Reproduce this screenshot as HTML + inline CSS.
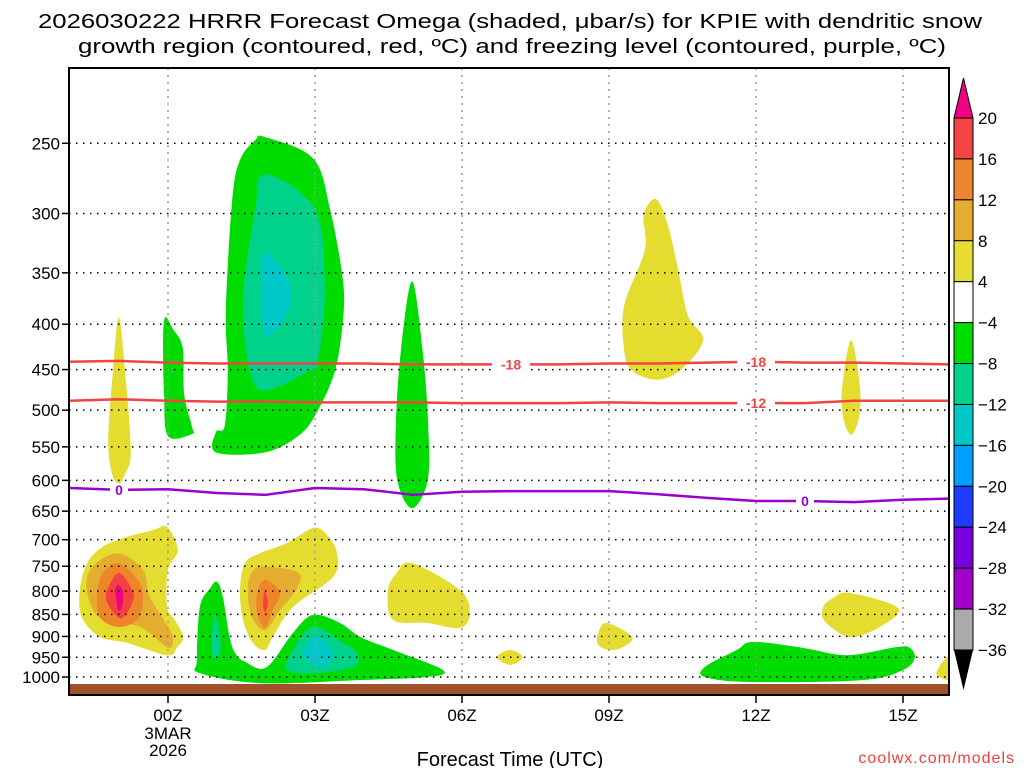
<!DOCTYPE html>
<html><head><meta charset="utf-8"><style>body{margin:0;background:#fff}svg{display:block}</style></head>
<body>
<svg id="chart" width="1024" height="768" viewBox="0 0 1024 768" xmlns="http://www.w3.org/2000/svg" font-family="'Liberation Sans', sans-serif">
<text x="510" y="28" font-size="20" text-anchor="middle" textLength="944" lengthAdjust="spacingAndGlyphs">2026030222 HRRR Forecast Omega (shaded, μbar/s) for KPIE with dendritic snow</text>
<text x="512" y="53" font-size="20" text-anchor="middle" textLength="868" lengthAdjust="spacingAndGlyphs">growth region (contoured, red, ºC) and freezing level (contoured, purple, ºC)</text>
<defs><clipPath id="plotclip"><rect x="69" y="68" width="880" height="627"/></clipPath></defs>
<g id="shades" clip-path="url(#plotclip)"></g>
<g id="grid"></g>
<rect x="69" y="684" width="880" height="11" fill="#a0522d"/>
<g id="lines" clip-path="url(#plotclip)"></g>
<rect x="69" y="68" width="880" height="627" fill="none" stroke="#000" stroke-width="2"/>
<g id="axes"></g>
<g id="cbar"></g>
<text x="510" y="766" font-size="20" text-anchor="middle">Forecast Time (UTC)</text>
<text x="1015" y="763" font-size="16" text-anchor="end" fill="#f04040" letter-spacing="1">coolwx.com/models</text>
</svg>
<script>
const pressureTicks=[250,300,350,400,450,500,550,600,650,700,750,800,850,900,950,1000];
const hourTicks=[0,3,6,9,12,15];
const hourLabels=['00Z','03Z','06Z','09Z','12Z','15Z'];
const cbarLabels=['20','16','12','8','4','-4','-8','-12','-16','-20','-24','-28','-32','-36'];
const cbarColors=['#f44343','#f08530','#e6ac30','#e6dc32','#ffffff','#00dc00','#00d28c','#00c8c8','#00a0ff','#1e3cff','#7800dc','#a000c8','#aaaaaa'];
const lineHours=[-2,-1,0,1,2,3,4,5,6,7,8,9,10,11,12,13,14,15,16];
const iso18=[441,440,442,443,443,443,443,444,444,444,444,443,443,442,441,442,442,443,444];
const iso12=[488,486,488,489,489,490,490,490,491,491,491,490,491,491,491,491,488,488,488];
const iso0=[612,615,614,620,623,612,614,623,618,617,617,617,622,628,633,633,635,631,629];
const C={y:'#e5dc30',g:'#e5ad30',o:'#ef8529',r:'#f34040',m:'#ee0080',G:'#00dc00',T:'#00d28c',c:'#00c8c8'};
const blobGreenBig=[[1.98,246],[2.96,260],[3.31,297],[3.57,357],[3.57,396],[3.41,451],[3.06,500],[2.69,533],[1.98,558],[0.98,558],[0.98,529],[1.16,520],[1.22,451],[1.18,386],[1.31,290],[1.47,261],[1.78,248]];
const blobTealBig=[[1.98,271],[3.0,297],[3.2,366],[3.06,439],[2.9,451],[1.98,475],[1.67,451],[1.53,376],[1.78,297]];
const blobCyanBig=[[1.98,332],[2.45,357],[2.45,386],[2.04,413],[1.92,386],[1.92,357]];
const blobYellowSpike=[[-1.0,393],[-0.85,470],[-0.76,560],[-0.88,590],[-1.0,605],[-1.14,590],[-1.22,540],[-1.12,450]];
const blobGreenSpike=[[-0.06,393],[0.1,405],[0.3,425],[0.33,480],[0.49,522],[0.49,532],[0.0,535],[-0.08,480],[-0.1,420]];
const blobGreen5=[[4.98,358],[5.2,430],[5.31,520],[5.3,600],[4.98,645],[4.68,600],[4.65,520],[4.75,430]];
const blobYellow10=[[9.96,289],[10.2,309],[10.41,347],[10.61,391],[10.92,417],[10.45,451],[9.96,462],[9.47,451],[9.31,428],[9.31,381],[9.73,330],[9.71,301]];
const blobYellow14=[[13.94,417],[14.12,470],[14.1,510],[13.94,533],[13.78,510],[13.76,470]];
const blobYellowL=[[-0.02,677],[0.2,719],[0,757],[-0.02,834],[0.14,862],[0.31,901],[0.18,927],[-0.02,945],[-0.84,915],[-1.39,901],[-1.76,856],[-1.8,798],[-1.65,744],[-1.33,713],[-0.84,695],[-0.31,683]];
const blobGoldL=[[-1.04,725],[-0.51,757],[-0.37,812],[0.04,885],[0.1,915],[-0.02,925],[-0.57,878],[-1.33,862],[-1.63,812],[-1.59,757]];
const blobOrangeL=[[-1.02,744],[-0.61,777],[-0.51,819],[-0.63,862],[-1.02,878],[-1.39,856],[-1.45,804],[-1.33,763]];
const blobRedL=[[-1.0,763],[-0.73,798],[-0.71,819],[-0.84,847],[-1.0,858],[-1.24,825],[-1.24,798]];
const blobMagL=[[-1.02,787],[-0.92,802],[-0.94,834],[-1.02,840],[-1.06,812],[-1.08,798]];
const blobYellowM=[[2.96,679],[3.24,691],[3.45,725],[3.37,771],[2.55,834],[2.14,901],[1.98,932],[1.73,915],[1.53,862],[1.47,798],[1.57,744],[1.88,725],[2.43,706]];
const blobGoldM=[[1.88,751],[2.63,761],[2.65,791],[2.29,840],[1.98,885],[1.71,856],[1.63,804],[1.67,771]];
const blobOrangeM=[[1.98,777],[2.29,802],[2.14,840],[1.98,880],[1.82,847],[1.82,804]];
const blobRedM=[[1.98,800],[2.04,825],[1.98,845],[1.94,825]];
const blobGreenB=[[1.0,781],[1.12,812],[1.31,925],[1.61,964],[2.02,974],[2.55,892],[2.96,851],[3.51,869],[3.92,901],[4.59,932],[5.61,982],[5.29,1000],[3.92,1008],[1.88,1016],[0.65,990],[0.59,957],[0.65,834],[0.86,794]];
const blobTealSpike=[[0.96,851],[1.06,900],[1.06,940],[0.92,950],[0.9,900]];
const blobTealB=[[2.96,878],[3.57,915],[3.86,940],[3.78,974],[2.96,990],[2.43,982],[2.55,932]];
const blobCyanB=[[3.04,901],[3.37,940],[3.16,974],[2.84,957],[2.76,932]];
const blobYellow5=[[4.98,744],[5.96,798],[6.16,847],[5.96,880],[5.29,869],[4.59,862],[4.49,798],[4.67,763]];
const blobYellow7=[[6.98,932],[7.24,950],[6.98,969],[6.71,950]];
const blobYellow9=[[8.96,869],[9.47,901],[9.29,925],[9.02,932],[8.78,920],[8.78,892]];
const blobYellow14b=[[13.92,804],[14.9,836],[14.53,878],[13.92,901],[13.41,866],[13.37,834],[13.57,815]];
const blobGreenR=[[10.96,974],[11.61,932],[11.94,913],[12.96,927],[13.86,945],[14.88,925],[15.14,927],[15.24,952],[15.0,982],[14.18,1008],[11.88,1013],[10.96,1000]];
const blobYellowEdge=[[15.7,982],[16.0,940],[16.3,960],[16.1,1010],[15.75,1000]];

const X=h=>168+49*h;
const Y=p=>677-385*Math.log(1000/p);
const NS='http://www.w3.org/2000/svg';
function mk(tag,parent,attrs){const e=document.createElementNS(NS,tag);for(const k in attrs)e.setAttribute(k,attrs[k]);parent.appendChild(e);return e;}
function smooth(pts){const P=pts.map(q=>[X(q[0]),Y(q[1])]);const n=P.length;let d=`M${P[0][0]},${P[0][1]}`;
 for(let i=0;i<n;i++){const p0=P[(i-1+n)%n],p1=P[i],p2=P[(i+1)%n],p3=P[(i+2)%n];
 d+=`C${p1[0]+(p2[0]-p0[0])/6},${p1[1]+(p2[1]-p0[1])/6} ${p2[0]-(p3[0]-p1[0])/6},${p2[1]-(p3[1]-p1[1])/6} ${p2[0]},${p2[1]}`;}
 return d+'Z';}
const shades=document.getElementById('shades');
const blobs=[[blobGreenBig,C.G,'upward-motion-core-02z'],[blobTealBig,C.T,'upward-motion-core-02z-inner'],[blobCyanBig,C.c,'upward-motion-core-02z-peak'],
[blobYellowSpike,C.y,'sink-spike-23z'],[blobGreenSpike,C.G,'lift-spike-00z'],[blobGreen5,C.G,'lift-spike-05z'],[blobYellow10,C.y,'sink-area-10z'],[blobYellow14,C.y,'sink-spike-14z'],
[blobYellowL,C.y,'sink-area-23z'],[blobGoldL,C.g,'sink-area-23z-8'],[blobOrangeL,C.o,'sink-area-23z-12'],[blobRedL,C.r,'sink-area-23z-16'],[blobMagL,C.m,'sink-area-23z-20'],
[blobYellowM,C.y,'sink-area-02z'],[blobGoldM,C.g,'sink-area-02z-8'],[blobOrangeM,C.o,'sink-area-02z-12'],[blobRedM,C.r,'sink-area-02z-16'],
[blobGreenB,C.G,'low-level-lift-03z'],[blobTealSpike,C.T,'low-level-lift-01z-inner'],[blobTealB,C.T,'low-level-lift-03z-inner'],[blobCyanB,C.c,'low-level-lift-03z-peak'],
[blobYellow5,C.y,'sink-area-05z'],[blobYellow7,C.y,'sink-area-07z'],[blobYellow9,C.y,'sink-area-09z'],[blobYellow14b,C.y,'sink-area-14z-low'],[blobGreenR,C.G,'low-level-lift-13z'],[blobYellowEdge,C.y,'sink-area-16z']];
blobs.forEach(b=>{const e=mk('path',shades,{d:smooth(b[0]),fill:b[1]});

});
const grid=document.getElementById('grid'),axes=document.getElementById('axes');
pressureTicks.forEach(p=>{const y=Y(p);
 const l=mk('line',grid,{x1:69,x2:949,y1:y,y2:y,stroke:'#000','stroke-width':1.5,'stroke-dasharray':'1.5 5.5'});
 
 
 const t=mk('line',axes,{x1:62,x2:69,y1:y,y2:y,stroke:'#000','stroke-width':1.5});
 
 
 const tx=mk('text',axes,{x:60,y:y+6,'font-size':17,'text-anchor':'end'});tx.textContent=p;
 
 });
hourTicks.forEach((h,i)=>{const x=X(h);
 const l=mk('line',grid,{x1:x,x2:x,y1:68,y2:684,stroke:'#999','stroke-width':1.5,'stroke-dasharray':'2 5'});
 
 
 const t=mk('line',axes,{x1:x,x2:x,y1:695,y2:703,stroke:'#000','stroke-width':1.5});
 
 
 const tx=mk('text',axes,{x:x,y:721,'font-size':17,'text-anchor':'middle'});tx.textContent=hourLabels[i];
 
 });
[['3MAR',739],['2026',756]].forEach(a=>{const tx=mk('text',axes,{x:X(0),y:a[1],'font-size':17,'text-anchor':'middle'});tx.textContent=a[0];
 
 });
const lines=document.getElementById('lines');
function drawIso(vals,color,name,labels,txt){
 const d=lineHours.map((h,i)=>(i?'L':'M')+X(h)+','+Y(vals[i])).join('');
 const e=mk('path',lines,{d:d,fill:'none',stroke:color,'stroke-width':2.5,'stroke-linejoin':'round'});
 
 
 labels.forEach(h=>{const i=lineHours.indexOf(h);const y=Y(vals[i]);
  mk('rect',lines,{x:X(h)-(txt.length*5+4),y:y-6,width:txt.length*10+8,height:12,fill:'#fff'});
  const t=mk('text',lines,{x:X(h),y:y+5,'font-size':14,'font-weight':'bold','text-anchor':'middle',fill:color});t.textContent=txt;
  
  });}
drawIso(iso18,'#f44343','isotherm-minus-18',[7,12],'-18');
drawIso(iso12,'#f44343','isotherm-minus-12',[12],'-12');
drawIso(iso0,'#9900cc','freezing-level-0',[-1,13],'0');
const cb=document.getElementById('cbar');const bx=954,bw=19,cbTop=118,bh=532/13;
const tri=mk('path',cb,{d:`M${bx},${cbTop}L${bx+bw/2},${cbTop-40}L${bx+bw},${cbTop}Z`,fill:'#f00082',stroke:'#000'});


cbarColors.forEach((c,i)=>{const r=mk('rect',cb,{x:bx,y:cbTop+i*bh,width:bw,height:bh,fill:c,stroke:'#000','stroke-width':1});
 
 });
const tri2=mk('path',cb,{d:`M${bx},${cbTop+532}L${bx+bw/2},${cbTop+572}L${bx+bw},${cbTop+532}Z`,fill:'#000'});


cbarLabels.forEach((s,i)=>{const t=mk('text',cb,{x:978,y:cbTop+i*bh+6,'font-size':17});t.textContent=s.replace('-','−');
 
 });
</script>
</body></html>
